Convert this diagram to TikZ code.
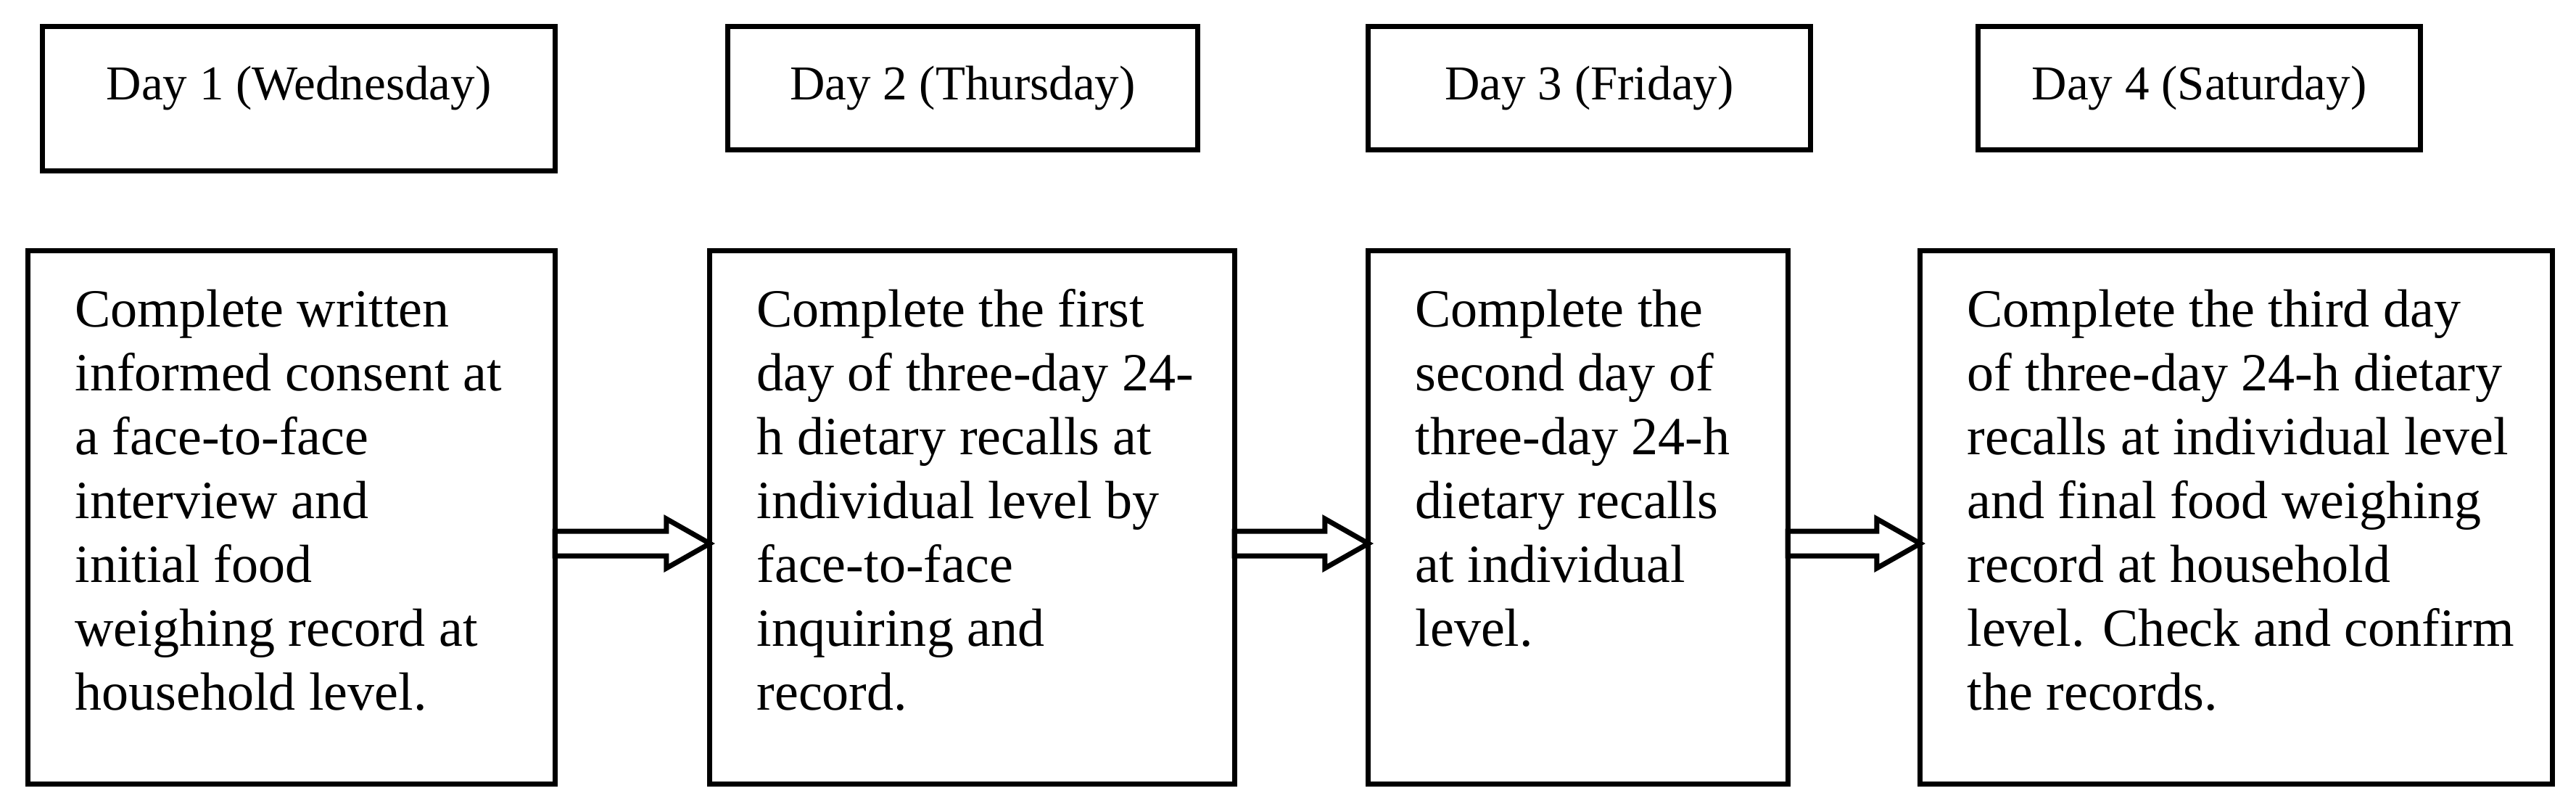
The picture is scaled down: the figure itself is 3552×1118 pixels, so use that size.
\documentclass[tikz,border=0pt]{standalone}
\usepackage{fontspec}
\setmainfont{Liberation Serif}
\usetikzlibrary{calc}
\tikzset{
  box/.style={draw, line width=0.07cm, inner sep=0pt, outer sep=0pt},
  daylabel/.style={font=\fontsize{0.67cm}{0.8cm}\selectfont, inner sep=0pt, anchor=base},
  desc/.style={font=\fontsize{0.74cm}{0.88cm}\selectfont, align=left, inner sep=0pt, anchor=north west},
  flow/.style={draw, line width=0.07cm, line join=miter},
}
\begin{document}
\begin{tikzpicture}[x=0.01cm, y=-0.01cm]
\useasboundingbox (0,0) rectangle (3552,1118);
% top day boxes
\node[box, minimum width=7.06cm, minimum height=1.98cm] (d1) at (412,136) {};
\node[box, minimum width=6.47cm, minimum height=1.69cm] (d2) at (1327.5,121.5) {};
\node[box, minimum width=6.09cm, minimum height=1.69cm] (d3) at (2191.5,121.5) {};
\node[box, minimum width=6.09cm, minimum height=1.69cm] (d4) at (3032.5,121.5) {};
\node[daylabel] (l1) at (d1 |- 0,137) {Day 1 (Wednesday)};
\node[daylabel] (l2) at (d2 |- 0,137) {Day 2 (Thursday)};
\node[daylabel] (l3) at (d3 |- 0,137) {Day 3 (Friday)};
\node[daylabel] (l4) at (d4 |- 0,137) {Day 4 (Saturday)};
% bottom task boxes
\node[box, minimum width=7.26cm, minimum height=7.34cm] (b1) at (402,713) {};
\node[box, minimum width=7.23cm, minimum height=7.34cm] (b2) at (1340.5,713) {};
\node[box, minimum width=5.78cm, minimum height=7.34cm] (b3) at (2176,713) {};
\node[box, minimum width=8.71cm, minimum height=7.34cm] (b4) at (3083.5,713) {};
\node[desc] (t1) at ($(b1.north west)+(64,42.4)$) {\strut Complete written\\informed consent at\\a face-to-face\\interview and\\initial food\\weighing record at\\household level.};
\node[desc] (t2) at ($(b2.north west)+(64,42.4)$) {\strut Complete the first\\day of three-day 24-\\h dietary recalls at\\individual level by\\face-to-face\\inquiring and\\record.};
\node[desc] (t3) at ($(b3.north west)+(64,42.4)$) {\strut Complete the\\second day of\\three-day 24-h\\dietary recalls\\at individual\\level.};
\node[desc] (t4) at ($(b4.north west)+(64,42.4)$) {\strut Complete the third day\\of three-day 24-h dietary\\recalls at individual level\\and final food weighing\\record at household\\level. Check and confirm\\the records.};
% arrows
\coordinate (s1) at (b1.east |- 0,749);
\coordinate (e1) at (b2.west |- 0,749);
\coordinate (s2) at (b2.east |- 0,749);
\coordinate (e2) at (b3.west |- 0,749);
\coordinate (s3) at (b3.east |- 0,749);
\coordinate (e3) at (b4.west |- 0,749);
\foreach \s/\e in {s1/e1, s2/e2, s3/e3}{
  \draw[flow] ($(\s)+(0,-17)$) -- ($(\e)+(-60,-17)$) -- ($(\e)+(-60,-34)$) -- (\e)
    -- ($(\e)+(-60,34)$) -- ($(\e)+(-60,17)$) -- ($(\s)+(0,17)$) -- cycle;
}
\end{tikzpicture}
\end{document}
